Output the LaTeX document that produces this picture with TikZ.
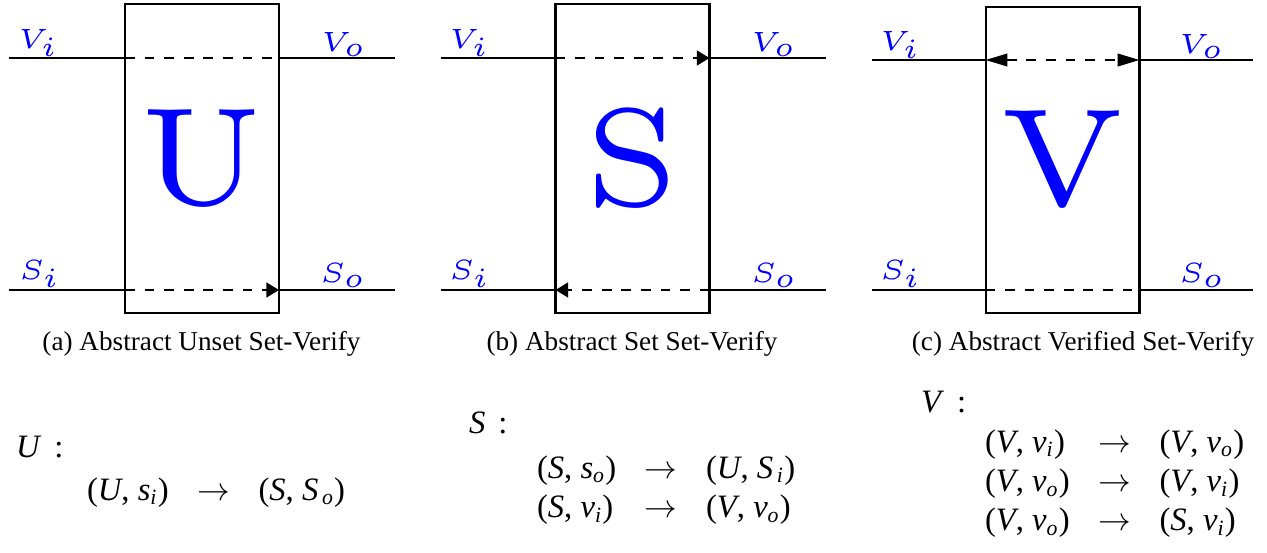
\documentclass[tikz,border=0pt]{standalone}
\usepackage{fontspec}
\usetikzlibrary{arrows.meta}
\setmainfont{Liberation Serif}
\newfontfamily\capfont{Liberation Serif}
\newfontfamily\bigletter{lmroman6-regular.otf}
\newcommand{\sv}[2]{\textit{#1}\textsubscript{\textit{#2}}}

\begin{document}
\begin{tikzpicture}[
    x=0.3676pt, y=-0.3676pt,
    line width=0.75pt,
    gate/.style={rectangle, draw, inner sep=0pt, outer sep=0pt,
        minimum width=56.6pt, minimum height=113.6pt,
        text=blue, font=\bigletter\fontsize{51}{55}\selectfont},
    sig/.style={anchor=base west, inner sep=0pt, text=blue, scale=2.05,
        font=\fontsize{5}{6}\selectfont},
    inner/.style={dash pattern=on 3.6pt off 3.6pt},
    tip/.style={-{Triangle[length=4.6pt,width=5.4pt]}},
    longtip/.style={{Triangle[length=8pt,width=4.6pt]}-{Triangle[length=8pt,width=4.6pt]}},
    caption/.style={anchor=base, inner sep=0pt, font=\capfont\fontsize{10}{12}\selectfont},
    rules/.style={anchor=base west, inner sep=0pt, font=\capfont\fontsize{12}{14.5}\selectfont}
]
\useasboundingbox (0,0) rectangle (1267,552);

% Unset
\node[gate] (boxU) at (202,158.5) {U};
\coordinate (uVi) at (9,58);
\coordinate (uVo) at (395,58);
\coordinate (uSi) at (9,290);
\coordinate (uSo) at (395,290);
\draw (uVi) -- (boxU.west |- uVi) (boxU.east |- uVo) -- (uVo);
\draw (uSi) -- (boxU.west |- uSi) (boxU.east |- uSo) -- (uSo);
\draw[inner] (boxU.west |- uVi) -- (boxU.east |- uVo);
\draw[inner, tip] (boxU.west |- uSi) -- (boxU.east |- uSo);
\node[sig] (uVilab) at (16,48) {$V_i$};
\node[sig] (uVolab) at (319,51) {$V_o$};
\node[sig] (uSilab) at (17,279) {$S_i$};
\node[sig] (uSolab) at (318,282) {$S_o$};
\node[caption] (capU) at (201.5,350) {(a) Abstract Unset Set-Verify};

% Set
\node[gate] (boxS) at (632.5,158.5) {S};
\coordinate (sVi) at (441,58);
\coordinate (sVo) at (826,58);
\coordinate (sSi) at (441,290);
\coordinate (sSo) at (826,290);
\draw (sVi) -- (boxS.west |- sVi) (boxS.east |- sVo) -- (sVo);
\draw (sSi) -- (boxS.west |- sSi) (boxS.east |- sSo) -- (sSo);
\draw[inner, tip] (boxS.west |- sVi) -- (boxS.east |- sVo);
\draw[inner, tip] (boxS.east |- sSo) -- (boxS.west |- sSi);
\node[sig] (sVilab) at (447,48) {$V_i$};
\node[sig] (sVolab) at (749,51) {$V_o$};
\node[sig] (sSilab) at (447,279) {$S_i$};
\node[sig] (sSolab) at (749,282) {$S_o$};
\node[caption] (capS) at (632,350) {(b) Abstract Set Set-Verify};

% Verified
\node[gate, minimum height=112.5pt] (boxV) at (1062.5,160) {V};
\coordinate (vVi) at (872,60);
\coordinate (vVo) at (1253,60);
\coordinate (vSi) at (872,290);
\coordinate (vSo) at (1253,290);
\draw (vVi) -- (boxV.west |- vVi) (boxV.east |- vVo) -- (vVo);
\draw (vSi) -- (boxV.west |- vSi) (boxV.east |- vSo) -- (vSo);
\draw[inner, longtip] (boxV.west |- vVi) -- (boxV.east |- vVo);
\draw[inner] (boxV.west |- vSi) -- (boxV.east |- vSo);
\node[sig] (vVilab) at (878,50) {$V_i$};
\node[sig] (vVolab) at (1177,53) {$V_o$};
\node[sig] (vSilab) at (878,279) {$S_i$};
\node[sig] (vSolab) at (1177,282) {$S_o$};
\node[caption] (capV) at (1083,350) {(c) Abstract Verified Set-Verify};

% transition rules
\node[rules] (headU) at (15,457) {\textit{U}\hspace{0.4em}:};
\node[rules] (ruleU) at (86,500) {\begin{tabular}[t]{@{}l@{\hspace{10.5pt}}c@{\hspace{10.5pt}}l@{}}
  (\textit{U}, \sv{s}{i}) & $\rightarrow$ & (\textit{S}, \sv{S}{\,o})
\end{tabular}};
\node[rules] (headS) at (468,433) {\textit{S}\hspace{0.4em}:};
\node[rules] (ruleS) at (536,478) {\begin{tabular}[t]{@{}l@{\hspace{10.5pt}}c@{\hspace{10.5pt}}l@{}}
  (\textit{S}, \sv{s}{o}) & $\rightarrow$ & (\textit{U}, \sv{S}{\,i}) \\
  (\textit{S}, \sv{v}{i}) & $\rightarrow$ & (\textit{V}, \sv{v}{o})
\end{tabular}};
\node[rules] (headV) at (920,412) {\textit{V}\hspace{0.4em}:};
\node[rules] (ruleV) at (984,452) {\begin{tabular}[t]{@{}l@{\hspace{10.5pt}}c@{\hspace{10.5pt}}l@{}}
  (\textit{V}, \sv{v}{i}) & $\rightarrow$ & (\textit{V}, \sv{v}{o}) \\
  (\textit{V}, \sv{v}{o}) & $\rightarrow$ & (\textit{V}, \sv{v}{i}) \\
  (\textit{V}, \sv{v}{o}) & $\rightarrow$ & (\textit{S}, \sv{v}{i})
\end{tabular}};

\end{tikzpicture}
\end{document}
